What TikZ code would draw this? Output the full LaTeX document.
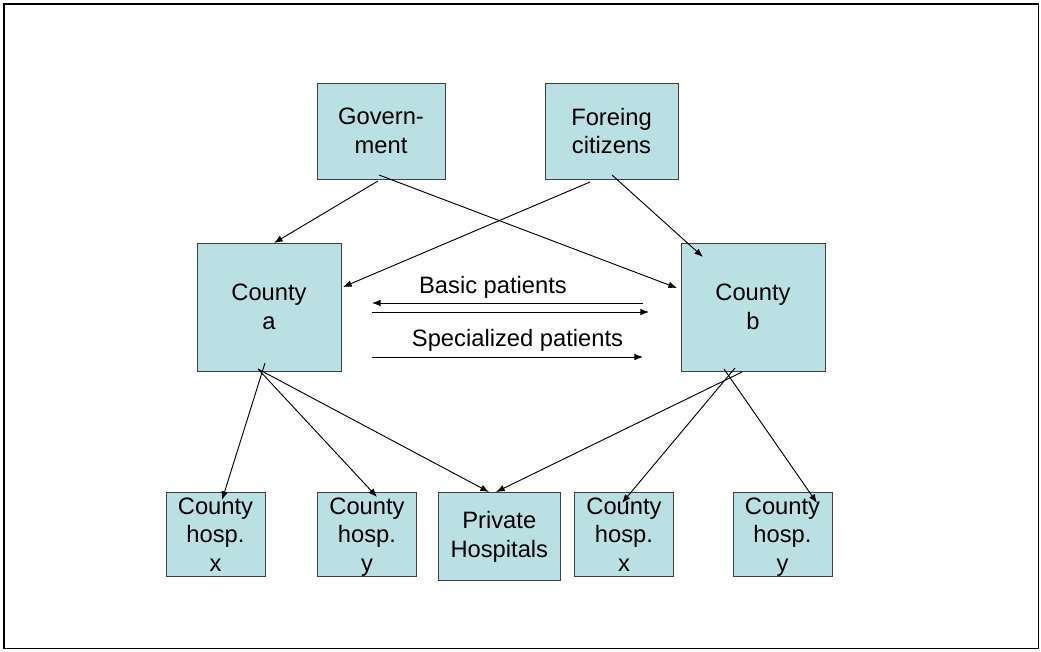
\documentclass[tikz,border=0pt]{standalone}
\usepackage{fontspec}
\setmainfont{Liberation Sans}
\usetikzlibrary{arrows.meta}
\definecolor{boxfill}{RGB}{187,224,227}
\tikzset{
  box/.style={draw=black!75,fill=boxfill,line width=0.6pt,inner sep=0pt,
    align=center,font=\fontsize{17.8}{21.3}\selectfont},
  county/.style={box,minimum width=108pt,minimum height=96pt},
  hosp/.style={box,minimum width=74.25pt,minimum height=63pt,text depth=0pt},
  txt/.style={inner sep=0pt,anchor=base,font=\fontsize{17.8}{21.3}\selectfont},
  flow/.style={-{Latex[length=6.5pt,width=5pt]},line width=0.7pt}
}
\begin{document}
\begin{tikzpicture}[x=0.75pt,y=-0.75pt]
  \useasboundingbox (0,0) rectangle (1041,651);
  \draw[line width=1.2pt] (4,4) rectangle (1038.5,648.5);
  \node[box,minimum width=96pt,minimum height=72pt] (gov) at (381,131) {Govern-\\ment};
  \node[box,minimum width=99.75pt,minimum height=72pt] (for) at (611.5,131) {Foreing\\citizens};
  \node[county] (ca) at (269,307) {County\\a};
  \node[county] (cb) at (753,307) {County\\b};
  \node[hosp] (hxa) at (215.5,534.5) {County\\hosp.\\x};
  \node[hosp] (hya) at (367,534.5) {County\\hosp.\\y};
  \node[box,minimum width=92pt,minimum height=66pt] (ph) at (499.3,536.7) {Private\\Hospitals};
  \node[hosp] (hxb) at (624,534.5) {County\\hosp.\\x};
  \node[hosp] (hyb) at (782.5,534.5) {County\\hosp.\\y};
  \node[txt] (basic) at (493,293) {Basic patients};
  \node[txt] (spec) at (517.5,346) {Specialized patients};
  \coordinate (gov-l) at (378,181);
  \coordinate (gov-r) at (379,175);
  \coordinate (for-l) at (590,182);
  \coordinate (for-r) at (612,175);
  \coordinate (ca-top) at (274,243);
  \coordinate (ca-side) at (343,287);
  \coordinate (cb-side) at (677,288);
  \coordinate (cb-top) at (703,257);
  \coordinate (bp-l) at (372,303);
  \coordinate (bp-r) at (643,303);
  \coordinate (bq-l) at (372,312);
  \coordinate (bq-r) at (649,312);
  \coordinate (sp-l) at (372,357);
  \coordinate (sp-r) at (643,357);
  \coordinate (ca-x) at (265,363);
  \coordinate (ca-o) at (258,369);
  \coordinate (cb-p) at (742,372);
  \coordinate (cb-x) at (735,368);
  \coordinate (cb-y) at (724,369);
  \coordinate (hxa-in) at (222,500);
  \coordinate (hya-in) at (377,497);
  \coordinate (ph-a) at (489,492);
  \coordinate (ph-b) at (496,492);
  \coordinate (hxb-in) at (622,503);
  \coordinate (hyb-in) at (817,503);
  \begin{scope}[flow]
    \draw (gov-l) to (ca-top);
    \draw (gov-r) to (cb-side);
    \draw (for-l) to (ca-side);
    \draw (for-r) to (cb-top);
    \draw (bp-r) to (bp-l);
    \draw (bq-l) to (bq-r);
    \draw (sp-l) to (sp-r);
    \draw (ca-x) to (hxa-in);
    \draw (ca-o) to (hya-in);
    \draw (ca-o) to (ph-a);
    \draw (cb-p) to (ph-b);
    \draw (cb-x) to (hxb-in);
    \draw (cb-y) to (hyb-in);
  \end{scope}
\end{tikzpicture}
\end{document}
